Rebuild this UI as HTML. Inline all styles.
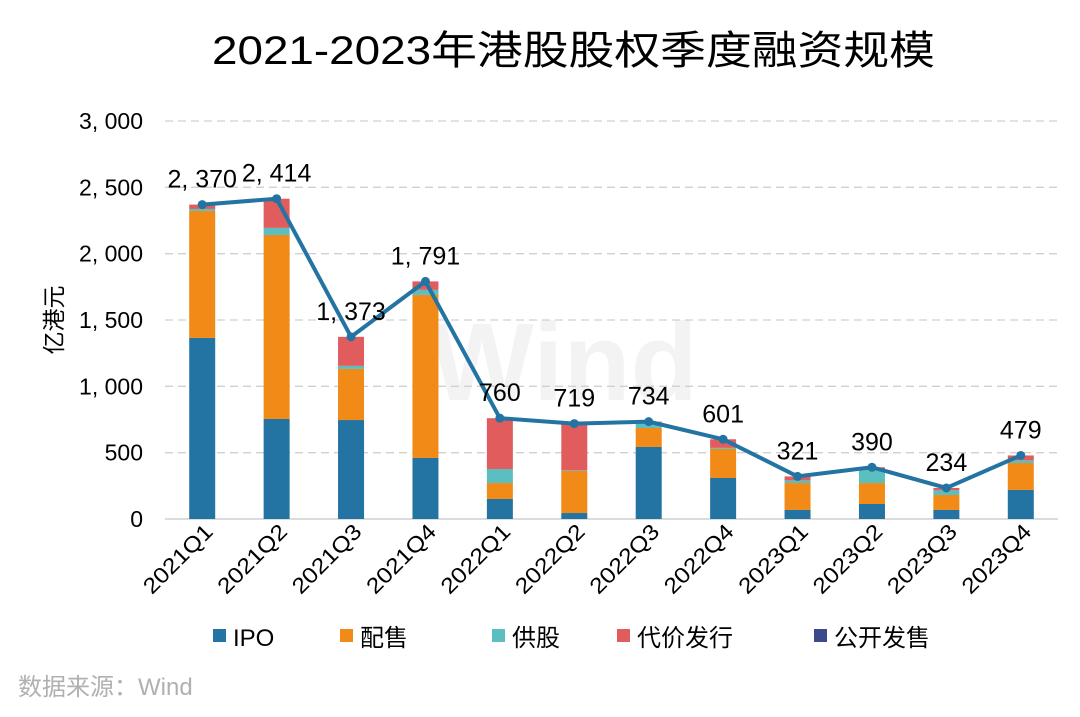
<!DOCTYPE html>
<html><head><meta charset="utf-8"><style>
body{margin:0;background:#fff;width:1080px;height:712px;overflow:hidden;font-family:"Liberation Sans","Noto Sans CJK SC",sans-serif}
</style></head><body>
<svg id="c" width="1080" height="712" xmlns="http://www.w3.org/2000/svg"></svg>
<script>
const categories=["2021Q1","2021Q2","2021Q3","2021Q4","2022Q1","2022Q2","2022Q3","2022Q4","2023Q1","2023Q2","2023Q3","2023Q4"];
const ipo=[1365,754,746,460,151,45,543,309,68,113,68,219];
const placing=[957,1387,385,1229,120,317,143,219,203,158,113,203];
const supply=[15,53,23,38,106,5,40,8,20,98,35,20];
const tender=[33,220,219,64,383,352,8,65,30,21,18,37];
const publicOffer=[0,0,0,0,0,0,0,0,0,0,0,0];
const totals=[2370,2414,1373,1791,760,719,734,601,321,390,234,479];
const totalLabels=["2, 370","2, 414","1, 373","1, 791","760","719","734","601","321","390","234","479"];
const yTicks=[0,500,1000,1500,2000,2500,3000];
const yTickLabels=["0","500","1, 000","1, 500","2, 000","2, 500","3, 000"];
const NS="http://www.w3.org/2000/svg",svg=document.getElementById('c');
const x0=165,x1=1058,y0=519,y1=121,ymax=3000;
const bw=(x1-x0)/categories.length;
const X=i=>x0+bw*(i+0.5), Y=v=>y0-(v/ymax)*(y0-y1);
function mk(t,a,txt){const e=document.createElementNS(NS,t);for(const k in a)e.setAttribute(k,a[k]);if(txt!=null)e.textContent=txt;svg.appendChild(e);return e;}
const cjk='"Liberation Sans","Noto Sans CJK SC",sans-serif';
let t=mk('text',{x:212,y:64,'font-size':40,'font-family':cjk,fill:'#000',textLength:723,lengthAdjust:'spacingAndGlyphs'},'2021-2023年港股股权季度融资规模');


t=mk('text',{x:430,y:400,'font-size':110,'font-weight':'bold','font-family':cjk,fill:'#f3f3f3'},'Wind');


yTicks.forEach((v,i)=>{
  if(v>0){const g=mk('line',{x1:x0,x2:x1,y1:Y(v),y2:Y(v),stroke:'#d0d0d0','stroke-width':1.3,'stroke-dasharray':'8,5'});
  
  }
  const l=mk('text',{x:143,y:Y(v)+8,'text-anchor':'end','font-size':23,'font-family':cjk,fill:'#000'},yTickLabels[i]);
  
  
});
const ax=mk('line',{x1:x0,x2:x1,y1:y0,y2:y0,stroke:'#d0d0d0','stroke-width':1.5});


t=mk('text',{transform:'translate(62,320) rotate(-90)','text-anchor':'middle','font-size':23,'font-family':cjk,fill:'#000'},'亿港元');


const series=[[ipo,'#2374a2','ipo'],[placing,'#f28a17','placing'],[supply,'#5bbfc1','supply'],[tender,'#e15d5d','tender'],[publicOffer,'#3b4a8a','public-offer']];
categories.forEach((c,i)=>{
  let acc=0;
  series.forEach(([arr,col,nm])=>{
    const v=arr[i]; if(v<=0)return;
    const r=mk('rect',{x:X(i)-13,y:Y(acc+v),width:26,height:Y(acc)-Y(acc+v),fill:col});
    
    
    acc+=v;
  });
  const l=mk('text',{transform:`translate(${X(i)+12},${y0+14}) rotate(-45)`,'text-anchor':'end','font-size':22,'font-family':cjk,fill:'#000',textLength:88,lengthAdjust:'spacingAndGlyphs'},c);
  
  
});
const pl=mk('polyline',{points:totals.map((v,i)=>X(i)+','+Y(v)).join(' '),fill:'none',stroke:'#2374a2','stroke-width':4,'stroke-linejoin':'round'});


totals.forEach((v,i)=>{
  const p=mk('circle',{cx:X(i),cy:Y(v),r:4.5,fill:'#2374a2'});
  
  
  const l=mk('text',{x:X(i),y:Y(v)-17,'text-anchor':'middle','font-size':25,'font-family':cjk,fill:'#000'},totalLabels[i]);
  
  
});
const legend=[['IPO','#2374a2',213],['配售','#f28a17',340],['供股','#5bbfc1',492],['代价发行','#e15d5d',617],['公开发售','#3b4a8a',814]];
legend.forEach(([n,c,x])=>{
  const r=mk('rect',{x:x,y:629,width:13,height:13,fill:c});
  
  
  const l=mk('text',{x:x+20,y:646,'font-size':24,'font-family':cjk,fill:'#000'},n);
  
  
});
t=mk('text',{x:18,y:695,'font-size':24,'font-family':cjk,fill:'#b0b0b0'},'数据来源：Wind');


</script>
</body></html>
